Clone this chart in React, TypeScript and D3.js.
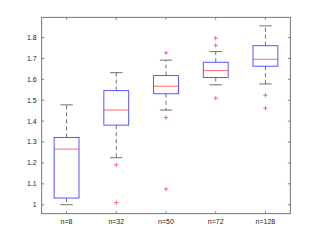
import React from 'react';
import * as d3 from 'd3';

const categories = ['n=8', 'n=32', 'n=50', 'n=72', 'n=128'];
const q1 = [1.032, 1.381, 1.531, 1.609, 1.663];
const medians = [1.266, 1.453, 1.567, 1.642, 1.696];
const q3 = [1.322, 1.546, 1.618, 1.682, 1.761];
const whiskerLow = [1.0, 1.225, 1.453, 1.574, 1.578];
const whiskerHigh = [1.478, 1.632, 1.692, 1.733, 1.856];
const outliers = [
  [],
  [1.191, 1.01],
  [1.727, 1.417, 1.075],
  [1.797, 1.763, 1.51],
  [1.524, 1.462],
];
const yTicks = [1, 1.1, 1.2, 1.3, 1.4, 1.5, 1.6, 1.7, 1.8];

export default function App() {
  const width = 321;
  const height = 241;
  const margin = { top: 17.3, right: 30.7, bottom: 27.3, left: 41.7 };
  const plotW = width - margin.left - margin.right;
  const plotH = height - margin.top - margin.bottom;

  const x = d3.scaleLinear().domain([0.5, 5.5]).range([0, plotW]);
  const y = d3.scaleLinear().domain([0.957, 1.897]).range([plotH, 0]);

  const boxHalf = x(1.25) - x(1);
  const capHalf = x(1.125) - x(1);
  const tick = 2.5;
  const font = '"Liberation Sans", Arial, sans-serif';

  return (
    <div style={{ position: 'absolute', left: 0, top: 0, background: '#fff' }}>
      <svg width={width} height={height} style={{ display: 'block' }}>
        <rect width={width} height={height} fill="#fff" />
        <g transform={`translate(${margin.left},${margin.top})`}>
          {/* axis frame */}
          <rect x={0} y={0} width={plotW} height={plotH} fill="none" stroke="#555" strokeWidth={0.8} />

          {/* y ticks */}
          {yTicks.map(t => (
            <g key={t}>
              <line x1={0} x2={tick} y1={y(t)} y2={y(t)} stroke="#555" strokeWidth={0.7} />
              <line x1={plotW} x2={plotW - tick} y1={y(t)} y2={y(t)} stroke="#555" strokeWidth={0.7} />
              <text x={-5} y={y(t)} dy="0.35em" textAnchor="end" fontSize={7} fontFamily={font} fill="#222">
                {d3.format('~g')(t)}
              </text>
            </g>
          ))}

          {/* x ticks */}
          {categories.map((c, i) => (
            <g key={c}>
              <line x1={x(i + 1)} x2={x(i + 1)} y1={plotH} y2={plotH - tick} stroke="#555" strokeWidth={0.7} />
              <line x1={x(i + 1)} x2={x(i + 1)} y1={0} y2={tick} stroke="#555" strokeWidth={0.7} />
              <text x={x(i + 1)} y={plotH + 10} textAnchor="middle" fontSize={7} fontFamily={font} fill="#222">
                {c}
              </text>
            </g>
          ))}

          {/* boxes */}
          {categories.map((c, i) => {
            const cx = x(i + 1);
            return (
              <g key={c}>
                <line x1={cx} x2={cx} y1={y(q3[i])} y2={y(whiskerHigh[i])} stroke="#333" strokeWidth={0.7} strokeDasharray="4,3" />
                <line x1={cx} x2={cx} y1={y(q1[i])} y2={y(whiskerLow[i])} stroke="#333" strokeWidth={0.7} strokeDasharray="4,3" />
                <line x1={cx - capHalf} x2={cx + capHalf} y1={y(whiskerHigh[i])} y2={y(whiskerHigh[i])} stroke="#333" strokeWidth={0.7} />
                <line x1={cx - capHalf} x2={cx + capHalf} y1={y(whiskerLow[i])} y2={y(whiskerLow[i])} stroke="#333" strokeWidth={0.7} />
                <rect x={cx - boxHalf} y={y(q3[i])} width={2 * boxHalf} height={y(q1[i]) - y(q3[i])} fill="none" stroke="#4444ff" strokeWidth={0.9} />
                <line x1={cx - boxHalf} x2={cx + boxHalf} y1={y(medians[i])} y2={y(medians[i])} stroke="#ff4444" strokeWidth={0.8} />
                {outliers[i].map((v, j) => (
                  <g key={j}>
                    <line x1={cx - 2.2} x2={cx + 2.2} y1={y(v)} y2={y(v)} stroke="#ff3333" strokeWidth={0.7} />
                    <line x1={cx} x2={cx} y1={y(v) - 2.2} y2={y(v) + 2.2} stroke="#ff3333" strokeWidth={0.7} />
                  </g>
                ))}
              </g>
            );
          })}
        </g>
      </svg>
    </div>
  );
}
